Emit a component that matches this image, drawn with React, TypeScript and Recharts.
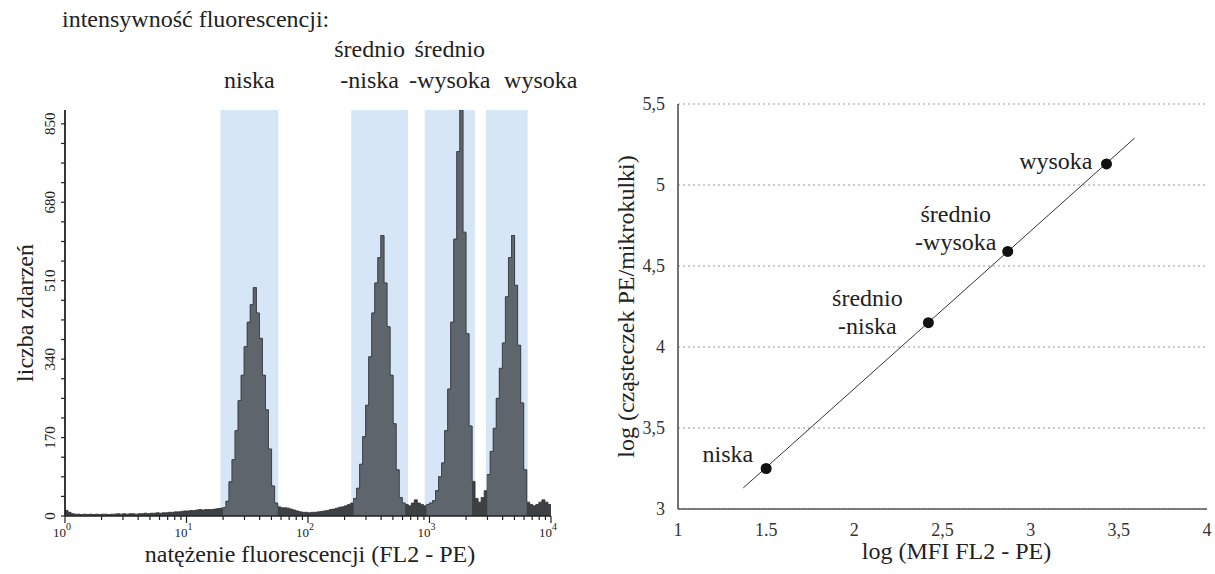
import {
  Area,
  CartesianGrid,
  ComposedChart,
  Line,
  ReferenceArea,
  Scatter,
  XAxis,
  YAxis,
} from "recharts";

const FONT = '"Liberation Serif", "Times New Roman", serif';
const INK = "#222";

// ---------- left panel: FL2-PE histogram ----------
// counts per bin; bins are 0.025 decade wide, starting at 10^0
const histBinStep = 0.025;
const histCounts = [
  12, 8, 5, 4, 4, 3, 4, 3, 4, 3, 4, 3, 4, 4, 3, 4, 4, 5, 4, 5, 4, 5, 5, 4, 5, 5, 6, 5, 6, 6, 7, 6, 7, 7, 8, 8,
  9, 9, 10, 11, 11, 12, 12, 13, 14, 13, 14, 14,
  // niska
  14, 15, 16, 17, 18, 32, 74, 122, 185, 250, 305, 367, 420, 458, 495, 440, 385, 305, 230, 145, 65, 28, 20, 18,
  18, 17, 15, 13, 11, 9, 8, 8, 7, 8, 8, 9, 10, 11, 12, 14, 15, 17, 19, 20,
  // średnio-niska
  22, 25, 28, 38, 60, 112, 172, 240, 345, 440, 505, 560, 608, 505, 410, 305, 200, 100, 40, 28, 25, 22,
  // średnio-wysoka
  28, 35, 28, 25, 22, 25, 28, 33, 55, 85, 115, 185, 275, 420, 600, 790, 880, 615, 395, 195, 75, 38,
  30, 40, 55,
  // wysoka
  90, 140, 190, 255, 320, 375, 475, 560, 608, 500, 370, 245, 100, 30, 25, 22, 25, 30, 35, 30, 25, 20,
];

const histYTicks = [
  0, 42.5, 85, 127.5, 170, 212.5, 255, 297.5, 340, 382.5, 425, 467.5, 510, 552.5, 595, 637.5, 680, 722.5, 765,
  807.5, 850,
];
const histYLabelStep = 170;
const histXTicks = [
  1, 2, 3, 4, 5, 6, 7, 8, 9, 10, 20, 30, 40, 50, 60, 70, 80, 90, 100, 200, 300, 400, 500, 600, 700, 800, 900,
  1000, 2000, 3000, 4000, 5000, 6000, 7000, 8000, 9000, 10000,
];

const bandStart = [19, 227, 914, 2910];
const bandEnd = [57, 665, 2360, 6430];
const bandNames = [["niska"], ["średnio", "-niska"], ["średnio", "-wysoka"], ["wysoka"]];

// ---------- right panel: calibration line ----------
const mfiLog = [1.5, 2.42, 2.87, 3.43];
const peLog = [3.25, 4.15, 4.59, 5.13];
const pointNames = [["niska"], ["średnio", "-niska"], ["średnio", "-wysoka"], ["wysoka"]];
const fitX = [1.37, 3.59];
const fitY = [3.13, 5.29];
const calXTicks = [1, 1.5, 2, 2.5, 3, 3.5, 4];
const calXLabels = ["1", "1.5", "2", "2,5", "3", "3,5", "4"];
const calYTicks = [3, 3.5, 4, 4.5, 5, 5.5];
const calYLabels = ["3", "3,5", "4", "4,5", "5", "5,5"];

// label placement (layout only)
const bandLabelShift = [0, -10, 0, 34];
const pointLabelGap = [13, 22, 13, 14];
const pointLabelDy = [-7, 11, -1, 5];

const histData = histCounts.map((count, i) => {
  const x = Math.pow(10, i * histBinStep);
  const inBand = bandStart.some((s, b) => x >= s && x <= bandEnd[b]);
  return { x, count, gated: inBand ? count : null };
});

const calPoints = mfiLog.map((x, i) => ({ x, y: peLog[i], idx: i }));
const fitData = fitX.map((x, i) => ({ x, y: fitY[i] }));

const serif = { fontFamily: FONT };

function HistXTick(props: any) {
  const { x, y, payload } = props;
  const lg = Math.log10(payload.value);
  const exp = Math.round(lg);
  const major = Math.abs(lg - exp) < 1e-6;
  return (
    <g>
      <line x1={x} x2={x} y1={y} y2={y + (major ? 7 : 4)} stroke={INK} strokeWidth={1.2} />
      {major && (
        <text x={x - 12} y={y + 21} style={serif} fontSize={13} fill={INK}>
          10
          <tspan dy={-7} fontSize={10}>
            {exp}
          </tspan>
        </text>
      )}
    </g>
  );
}

function HistYTick(props: any) {
  const { x, y, payload } = props;
  const major = payload.value % histYLabelStep === 0;
  const tx = x - 10;
  return (
    <g>
      <line x1={x - 4} x2={x} y1={y} y2={y} stroke={INK} strokeWidth={1.2} />
      {major && (
        <text
          x={tx}
          y={y}
          transform={`rotate(-90, ${tx}, ${y})`}
          textAnchor="middle"
          style={serif}
          fontSize={15}
          fill={INK}
        >
          {payload.value}
        </text>
      )}
    </g>
  );
}

const bandLabel = (b: number) => (props: any) => {
  const vb = props.viewBox;
  const cx = vb.x + vb.width / 2 + bandLabelShift[b];
  const lines = bandNames[b];
  return (
    <g>
      {lines.map((t, k) => (
        <text
          key={k}
          x={cx}
          y={vb.y - 22 - (lines.length - 1 - k) * 31}
          textAnchor="middle"
          style={serif}
          fontSize={24}
          fill={INK}
        >
          {t}
        </text>
      ))}
    </g>
  );
};

function CalPoint(props: any) {
  const { cx, cy, payload } = props;
  const i = payload.idx;
  const lines = pointNames[i];
  const base = cy + pointLabelDy[i];
  const right = cx - pointLabelGap[i];
  return (
    <g>
      <circle cx={cx} cy={cy} r={5.5} fill="#111" />
      {lines.length === 1 ? (
        <text x={right} y={base} textAnchor="end" style={serif} fontSize={24} fill={INK}>
          {lines[0]}
        </text>
      ) : (
        lines.map((t, k) => (
          <text
            key={k}
            x={right - 39}
            y={base - (lines.length - 1 - k) * 28}
            textAnchor="middle"
            style={serif}
            fontSize={24}
            fill={INK}
          >
            {t}
          </text>
        ))
      )}
    </g>
  );
}

export default function App() {
  return (
    <div style={{ position: "absolute", left: 0, top: 0, width: 1215, height: 574, background: "#fff" }}>
      <svg style={{ position: "absolute", left: 0, top: 0 }} width={600} height={40}>
        <text x={62} y={27} style={serif} fontSize={24} fill={INK}>
          intensywność fluorescencji:
        </text>
      </svg>

      <div style={{ position: "absolute", left: 0, top: 0 }}>
        <ComposedChart width={600} height={574} data={histData} margin={{ top: 110, right: 49, bottom: 0, left: 5 }}>
          {bandStart.map((s, b) => (
            <ReferenceArea
              key={b}
              x1={s}
              x2={bandEnd[b]}
              fill="#d6e6f6"
              fillOpacity={1}
              stroke="none"
              ifOverflow="extendDomain"
              label={{ content: bandLabel(b) }}
            />
          ))}
          <Area
            type="stepAfter"
            dataKey="count"
            stroke="#2c2e31"
            strokeWidth={0.8}
            fill="#3e4144"
            fillOpacity={1}
            dot={false}
            activeDot={false}
            isAnimationActive={false}
          />
          <Area
            type="stepAfter"
            dataKey="gated"
            stroke="#3d4247"
            strokeWidth={0.8}
            fill="#5e656d"
            fillOpacity={1}
            dot={false}
            activeDot={false}
            connectNulls={false}
            isAnimationActive={false}
          />
          <XAxis
            dataKey="x"
            type="number"
            scale="log"
            domain={[1, 10000]}
            allowDataOverflow
            ticks={histXTicks}
            interval={0}
            tickSize={0}
            tickMargin={0}
            tick={<HistXTick />}
            height={58}
            axisLine={{ stroke: INK, strokeWidth: 1.5 }}
            label={{
              content: (p: any) => (
                <text
                  x={p.viewBox.x + p.viewBox.width / 2 + 2}
                  y={p.viewBox.y + 46}
                  textAnchor="middle"
                  style={serif}
                  fontSize={24}
                  fill={INK}
                >
                  natężenie fluorescencji (FL2 - PE)
                </text>
              ),
            }}
          />
          <XAxis
            xAxisId="top"
            orientation="top"
            type="number"
            domain={[1, 10000]}
            height={0}
            tick={false}
            tickLine={false}
            axisLine={{ stroke: INK, strokeWidth: 1.5 }}
          />
          <YAxis
            type="number"
            domain={[0, 880]}
            allowDataOverflow
            ticks={histYTicks}
            interval={0}
            tickSize={0}
            tickMargin={0}
            tick={<HistYTick />}
            width={60}
            axisLine={{ stroke: INK, strokeWidth: 1.8 }}
            label={{
              content: (p: any) => {
                const tx = p.viewBox.x + 28;
                const ty = p.viewBox.y + p.viewBox.height / 2;
                return (
                  <text
                    x={tx}
                    y={ty}
                    transform={`rotate(-90, ${tx}, ${ty})`}
                    textAnchor="middle"
                    style={serif}
                    fontSize={24}
                    fill={INK}
                  >
                    liczba zdarzeń
                  </text>
                );
              },
            }}
          />
          <YAxis
            yAxisId="right"
            orientation="right"
            width={0}
            tick={false}
            tickLine={false}
            axisLine={{ stroke: INK, strokeWidth: 1.5 }}
          />
        </ComposedChart>
      </div>

      <div style={{ position: "absolute", left: 600, top: 0 }}>
        <ComposedChart width={615} height={574} margin={{ top: 104, right: 8, bottom: 0, left: 0 }}>
          <CartesianGrid vertical={false} stroke="#999" strokeDasharray="2 3" />
          <XAxis
            dataKey="x"
            type="number"
            domain={[1, 4]}
            ticks={calXTicks}
            interval={0}
            tickFormatter={(v: number) => calXLabels[calXTicks.indexOf(v)]}
            tickLine={false}
            tickSize={0}
            tickMargin={14}
            height={65}
            tick={{ fontFamily: FONT, fontSize: 18, fill: "#333" }}
            axisLine={{ stroke: "#555", strokeWidth: 1.5 }}
            label={{
              content: (p: any) => (
                <text
                  x={p.viewBox.x + p.viewBox.width / 2 + 14}
                  y={p.viewBox.y + 50}
                  textAnchor="middle"
                  style={serif}
                  fontSize={24}
                  fill={INK}
                >
                  log (MFI FL2 - PE)
                </text>
              ),
            }}
          />
          <XAxis
            xAxisId="top"
            orientation="top"
            type="number"
            domain={[1, 4]}
            height={0}
            tick={false}
            tickLine={false}
            axisLine={{ stroke: "#444", strokeWidth: 1.2 }}
          />
          <YAxis
            dataKey="y"
            type="number"
            domain={[3, 5.5]}
            ticks={calYTicks}
            interval={0}
            tickFormatter={(v: number) => calYLabels[calYTicks.indexOf(v)]}
            tickLine={false}
            tickSize={0}
            tickMargin={13}
            width={78}
            tick={{ fontFamily: FONT, fontSize: 18, fill: "#333" }}
            axisLine={{ stroke: "#444", strokeWidth: 1.5 }}
            label={{
              content: (p: any) => {
                const tx = p.viewBox.x + 34;
                const ty = p.viewBox.y + p.viewBox.height / 2;
                return (
                  <text
                    x={tx}
                    y={ty}
                    transform={`rotate(-90, ${tx}, ${ty})`}
                    textAnchor="middle"
                    style={serif}
                    fontSize={24}
                    fill={INK}
                  >
                    log (cząsteczek PE/mikrokulki)
                  </text>
                );
              },
            }}
          />
          <YAxis
            yAxisId="right"
            orientation="right"
            width={0}
            tick={false}
            tickLine={false}
            axisLine={{ stroke: "#aaa", strokeWidth: 1.2 }}
          />
          <Line
            data={fitData}
            dataKey="y"
            type="linear"
            stroke="#333"
            strokeWidth={1}
            dot={false}
            activeDot={false}
            isAnimationActive={false}
          />
          <Scatter data={calPoints} dataKey="y" shape={<CalPoint />} isAnimationActive={false} />
        </ComposedChart>
      </div>
    </div>
  );
}
